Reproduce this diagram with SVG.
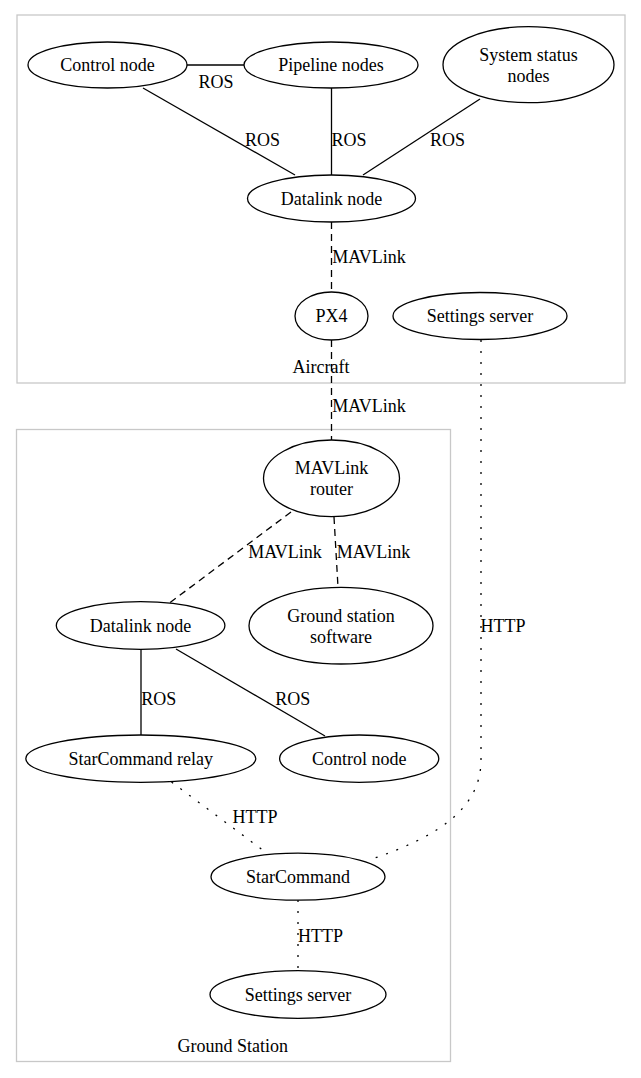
<svg xmlns="http://www.w3.org/2000/svg" width="641" height="1078" viewBox="0 0 641 1078">
<style>
text{font-family:"Liberation Serif","Times New Roman",serif;font-size:18px;fill:#000;text-anchor:middle}
.node ellipse{fill:#fff;stroke:#000;stroke-width:1.3}
.cluster rect{fill:none;stroke:#c8c8c8;stroke-width:1.3}
.e path{fill:none;stroke:#000;stroke-width:1.3}
.e .dash{stroke-dasharray:7,5}
.e .dot{stroke-dasharray:2,9}
</style>
<rect width="641" height="1078" fill="#fff"/>
<g id="cluster_aircraft" class="cluster">
<rect x="17" y="15" width="608" height="368"/>
<text x="321" y="373">Aircraft</text>
</g>
<g id="cluster_ground" class="cluster">
<rect x="16.5" y="429.5" width="434" height="632"/>
<text x="232.7" y="1051.7">Ground Station</text>
</g>
<g id="edges" class="e">
<path d="M187 65 L244 65"/>
<text x="216" y="87.5">ROS</text>
<path d="M143 88 L295 175"/>
<text x="262.5" y="145.7">ROS</text>
<path d="M331.5 88 L331.5 175"/>
<text x="349" y="145.7">ROS</text>
<path d="M480 99 L363 175"/>
<text x="447.5" y="145.7">ROS</text>
<path class="dash" d="M331.5 222 L331.5 292"/>
<text x="369" y="263.3">MAVLink</text>
<path class="dash" d="M331.5 340 L331.5 440"/>
<text x="369" y="411.7">MAVLink</text>
<path class="dot" d="M481 340 L481 760 C481 810 435 838 369 860"/>
<text x="503" y="631.7">HTTP</text>
<path class="dash" d="M291 512 L169.5 603"/>
<text x="285" y="558.3">MAVLink</text>
<path class="dash" d="M334 517 L338 587"/>
<text x="373.5" y="558.3">MAVLink</text>
<path d="M141 649 L141 735"/>
<text x="158.8" y="705">ROS</text>
<path d="M176 649 L325 736"/>
<text x="292.8" y="705">ROS</text>
<path class="dot" d="M171.5 782 L268 854"/>
<text x="255" y="823.3">HTTP</text>
<path class="dot" d="M298 900 L298 971"/>
<text x="320.5" y="941.7">HTTP</text>
</g>
<g id="control_air" class="node"><ellipse cx="107.5" cy="65" rx="79.5" ry="23"/><text x="107.5" y="71">Control node</text></g>
<g id="pipeline" class="node"><ellipse cx="331" cy="65" rx="87" ry="23"/><text x="331" y="71">Pipeline nodes</text></g>
<g id="system_status" class="node"><ellipse cx="528.5" cy="64.7" rx="85.5" ry="38"/><text x="528.5" y="60.5">System status</text><text x="528.5" y="81.5">nodes</text></g>
<g id="datalink_air" class="node"><ellipse cx="331.5" cy="198.5" rx="84" ry="23.5"/><text x="331.5" y="204.5">Datalink node</text></g>
<g id="px4" class="node"><ellipse cx="331.5" cy="316" rx="36.5" ry="24"/><text x="331.5" y="322">PX4</text></g>
<g id="settings_air" class="node"><ellipse cx="480" cy="316" rx="87" ry="23.5"/><text x="480" y="322">Settings server</text></g>
<g id="mavlink_router" class="node"><ellipse cx="331.5" cy="478.3" rx="68" ry="38.3"/><text x="331.5" y="474">MAVLink</text><text x="331.5" y="495">router</text></g>
<g id="datalink_gs" class="node"><ellipse cx="140.6" cy="625.5" rx="84.3" ry="23.8"/><text x="140.6" y="631.5">Datalink node</text></g>
<g id="ground_software" class="node"><ellipse cx="341" cy="625.7" rx="92" ry="38.3"/><text x="341" y="621.5">Ground station</text><text x="341" y="642.5">software</text></g>
<g id="relay" class="node"><ellipse cx="140.8" cy="758.7" rx="115" ry="23.7"/><text x="140.8" y="764.7">StarCommand relay</text></g>
<g id="control_gs" class="node"><ellipse cx="359.2" cy="758.7" rx="79.6" ry="23.7"/><text x="359.2" y="764.7">Control node</text></g>
<g id="starcommand" class="node"><ellipse cx="298" cy="876.7" rx="87" ry="23.5"/><text x="298" y="882.7">StarCommand</text></g>
<g id="settings_gs" class="node"><ellipse cx="298" cy="994.5" rx="88" ry="23.8"/><text x="298" y="1000.5">Settings server</text></g>
</svg>
